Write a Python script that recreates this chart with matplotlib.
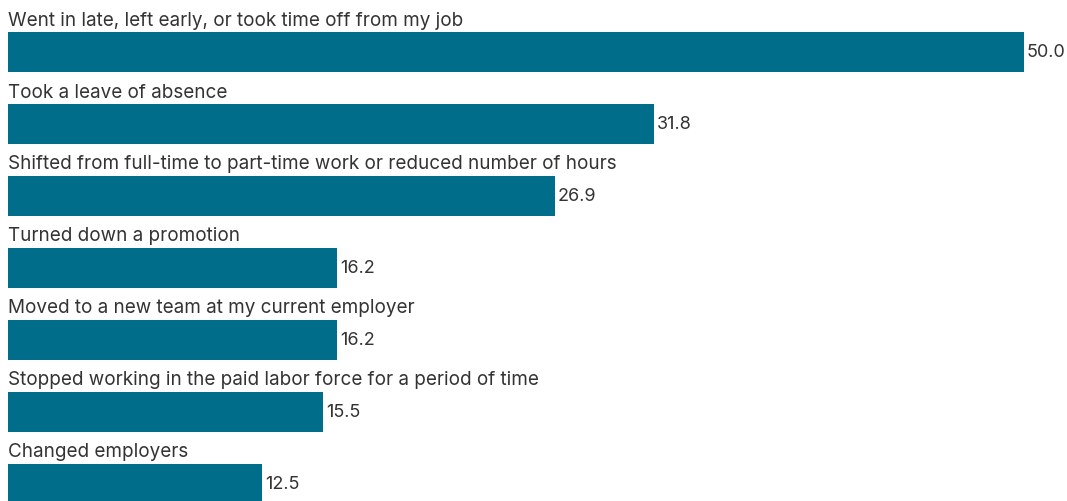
import matplotlib
matplotlib.use("Agg")
import matplotlib.pyplot as plt
from matplotlib import font_manager

categories = [
    "Went in late, left early, or took time off from my job",
    "Took a leave of absence",
    "Shifted from full-time to part-time work or reduced number of hours",
    "Turned down a promotion",
    "Moved to a new team at my current employer",
    "Stopped working in the paid labor force for a period of time",
    "Changed employers",
]
values = [50.0, 31.8, 26.9, 16.2, 16.2, 15.5, 12.5]

BAR_COLOR = "#006E8A"
TEXT_COLOR = "#333333"

names = {f.name for f in font_manager.fontManager.ttflist}
family = "Inter" if "Inter" in names else "DejaVu Sans"

W, H = 1067, 502
fig = plt.figure(figsize=(W / 100, H / 100), dpi=100)
ax = fig.add_axes([0, 0, 1, 1])

# pixel-like layout: 20.32 px per percentage point, bars start 8 px in
px_per_unit = 20.32
left_px = 8
ax.set_xlim(-left_px / px_per_unit, (W - left_px) / px_per_unit)
ax.set_ylim(H, 0)

step = 72
first_center = 52.5
bar_h = 40

for i, (cat, val) in enumerate(zip(categories, values)):
    yc = first_center + i * step
    ax.barh(yc, val, height=bar_h, left=0, color=BAR_COLOR, edgecolor="none")
    ax.text(0.02, yc - bar_h / 2 - 7, cat, ha="left", va="baseline",
            fontsize=13.6, color=TEXT_COLOR, family=family)
    ax.annotate(f"{val:.1f}", xy=(val, yc), xytext=(2, 0),
                textcoords="offset points", ha="left", va="center",
                fontsize=13.0, color=TEXT_COLOR, family=family)

ax.axis("off")
fig.savefig("out.png", dpi=100, facecolor="white")
